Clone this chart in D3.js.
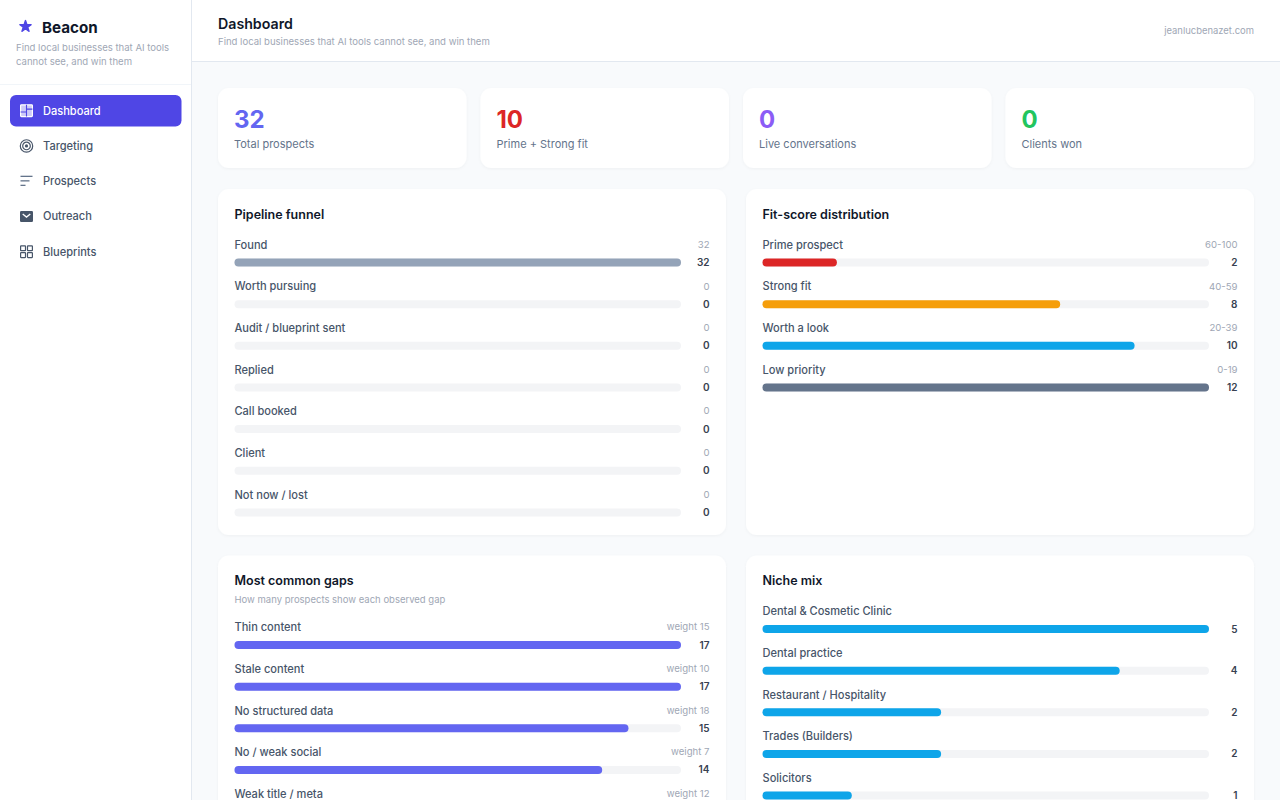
<!DOCTYPE html>
<html>
<head>
<meta charset="utf-8">
<title>Beacon</title>
<script src="https://cdn.jsdelivr.net/npm/d3@7"></script>
<style>
    html, body { margin: 0; padding: 0; overflow: hidden; background: #f8fafc; }
    svg { display: block; font-family: Inter, "Noto Sans", sans-serif; }
</style>
</head>
<body>
<div id="app"></div>
<script>
const navItems = ["Dashboard", "Targeting", "Prospects", "Outreach", "Blueprints"];

const kpiValues = ["32", "10", "0", "0"];
const kpiLabels = ["Total prospects", "Prime + Strong fit", "Live conversations", "Clients won"];
const kpiColors = ["#6366f1", "#dc2626", "#8b5cf6", "#22c55e"];

const funnelLabels = ["Found", "Worth pursuing", "Audit / blueprint sent", "Replied", "Call booked", "Client", "Not now / lost"];
const funnelValues = [32, 0, 0, 0, 0, 0, 0];
const funnelMeta = ["32", "0", "0", "0", "0", "0", "0"];

const fitLabels = ["Prime prospect", "Strong fit", "Worth a look", "Low priority"];
const fitValues = [2, 8, 10, 12];
const fitMeta = ["60-100", "40-59", "20-39", "0-19"];
const fitColors = ["#dc2626", "#f59e0b", "#0ea5e9", "#64748b"];

const gapLabels = ["Thin content", "Stale content", "No structured data", "No / weak social", "Weak title / meta"];
const gapValues = [17, 17, 15, 14, 14];
const gapMeta = ["weight 15", "weight 10", "weight 18", "weight 7", "weight 12"];

const nicheLabels = ["Dental & Cosmetic Clinic", "Dental practice", "Restaurant / Hospitality", "Trades (Builders)", "Solicitors"];
const nicheValues = [5, 4, 2, 2, 1];

const W = 1280;
const H = 800;
const sideW = 191;
const headH = 61;
const barW = 446.5;
const barH = 8;
const rowH = 41.65;
const mutedColor = "#a0a7b5";

const svg = d3.select("#app")
    .append("svg")
    .attr("width", W)
    .attr("height", H);

const defs = svg.append("defs");
const shadow = defs.append("filter")
    .attr("id", "cardShadow")
    .attr("x", "-5%").attr("y", "-5%")
    .attr("width", "110%").attr("height", "110%");
shadow.append("feDropShadow")
    .attr("dx", 0).attr("dy", 1).attr("stdDeviation", 1.5)
    .attr("flood-color", "#0f172a").attr("flood-opacity", 0.04);

function addText(parent, x, y, str, size, weight, color, anchor) {
    return parent.append("text")
        .attr("x", x)
        .attr("y", y)
        .attr("dy", "0.35em")
        .attr("font-size", size)
        .attr("font-weight", weight)
        .attr("fill", color)
        .attr("text-anchor", anchor || "start")
        .text(str);
}

//PAGE
svg.append("rect").attr("width", W).attr("height", H).attr("fill", "#f8fafc");

//HEADER
svg.append("rect").attr("x", sideW).attr("width", W - sideW).attr("height", headH).attr("fill", "#ffffff");
svg.append("rect").attr("x", sideW).attr("y", headH).attr("width", W - sideW).attr("height", 1).attr("fill", "#e2e8f0");
addText(svg, 218, 24, "Dashboard", 14.2, 600, "#0f172a");
addText(svg, 218, 42, "Find local businesses that AI tools cannot see, and win them", 9.55, 400, mutedColor);
addText(svg, 1254, 30.5, "jeanlucbenazet.com", 9.45, 400, mutedColor, "end");

//SIDEBAR
svg.append("rect").attr("width", sideW).attr("height", H).attr("fill", "#ffffff");
svg.append("rect").attr("x", sideW).attr("width", 1).attr("height", H).attr("fill", "#e2e8f0");
svg.append("rect").attr("y", 84).attr("width", sideW).attr("height", 1).attr("fill", "#f1f5f9");
svg.append("path")
    .attr("transform", "translate(25.5,26.5)")
    .attr("d", d3.symbol(d3.symbolStar, 38)())
    .attr("fill", "#4f46e5")
    .attr("stroke", "#4f46e5")
    .attr("stroke-width", 1.6)
    .attr("stroke-linejoin", "round");
addText(svg, 42, 27.5, "Beacon", 15.2, 700, "#0f172a");
addText(svg, 16, 47.5, "Find local businesses that AI tools", 9.55, 400, mutedColor);
addText(svg, 16, 61.5, "cannot see, and win them", 9.55, 400, mutedColor);

const navY = d3.scalePoint().domain(navItems).range([110.7, 251.7]);

svg.append("rect")
    .attr("x", 10).attr("y", 95)
    .attr("width", 171.5).attr("height", 31.5)
    .attr("rx", 6)
    .attr("fill", "#4f46e5");

const nav = svg.selectAll("g.nav")
    .data(navItems)
    .enter()
    .append("g")
    .attr("class", "nav")
    .attr("transform", d => "translate(0," + navY(d) + ")");

nav.append("text")
    .attr("x", 43)
    .attr("dy", "0.35em")
    .attr("font-size", 11.05)
    .attr("font-weight", 500)
    .attr("fill", (d, i) => i === 0 ? "#ffffff" : "#475569")
    .text(d => d);

//NAV ICONS
const iconDash = svg.append("g").attr("transform", "translate(26.5," + navY("Dashboard") + ")");
iconDash.append("rect")
    .attr("x", -5.9).attr("y", -5.9).attr("width", 11.8).attr("height", 11.8).attr("rx", 0.8)
    .attr("fill", "#ffffff").attr("fill-opacity", 0.72)
    .attr("stroke", "#ffffff").attr("stroke-width", 1.2);
iconDash.append("path")
    .attr("d", "M0-5.9V5.9M-5.9 1.3H0M0-1.6H5.9")
    .attr("fill", "none")
    .attr("stroke", "#4f46e5")
    .attr("stroke-width", 1.1);

const iconTarget = svg.append("g").attr("transform", "translate(26.5," + navY("Targeting") + ")")
    .attr("fill", "none").attr("stroke", "#475569");
[6.2, 3.8].forEach(r => iconTarget.append("circle").attr("r", r).attr("stroke-width", 1.2));
iconTarget.append("circle").attr("r", 1.6).attr("fill", "#475569").attr("stroke", "none");

const iconList = svg.append("g").attr("transform", "translate(26.5," + navY("Prospects") + ")").attr("fill", "#64748b");
[[-6, -5.5, 12], [-6, -1, 9], [-6, 3.5, 5]].forEach(l => {
    iconList.append("rect").attr("x", l[0]).attr("y", l[1]).attr("width", l[2]).attr("height", 1.3);
});

const iconMail = svg.append("g").attr("transform", "translate(26.5," + navY("Outreach") + ")");
iconMail.append("rect").attr("x", -6.5).attr("y", -5.5).attr("width", 13).attr("height", 11).attr("rx", 1.2).attr("fill", "#475569");
iconMail.append("path").attr("d", "M-3.8-2.4L0 0.6L3.8-2.4").attr("fill", "none").attr("stroke", "#ffffff").attr("stroke-width", 1.3);

const iconGrid = svg.append("g").attr("transform", "translate(26.5," + navY("Blueprints") + ")")
    .attr("fill", "none").attr("stroke", "#475569").attr("stroke-width", 1.2);
[[-5.9, -5.9], [1, -5.9], [-5.9, 1], [1, 1]].forEach(p => {
    iconGrid.append("rect").attr("x", p[0]).attr("y", p[1]).attr("width", 4.9).attr("height", 4.9).attr("rx", 0.5);
});

//KPI CARDS
const kpiX = d3.scalePoint().domain(d3.range(4)).range([218, 1005.5]);
const kpi = svg.selectAll("g.kpi")
    .data(kpiValues)
    .enter()
    .append("g")
    .attr("class", "kpi")
    .attr("transform", (d, i) => "translate(" + kpiX(i) + ",88)");
kpi.append("rect")
    .attr("width", 248.5).attr("height", 80).attr("rx", 11)
    .attr("fill", "#ffffff").attr("filter", "url(#cardShadow)");
kpi.append("text")
    .attr("x", 16).attr("y", 31.4).attr("dy", "0.35em")
    .attr("font-size", 24).attr("font-weight", 700)
    .attr("fill", (d, i) => kpiColors[i])
    .text(d => d);
kpi.append("text")
    .attr("x", 16).attr("y", 56).attr("dy", "0.35em")
    .attr("font-size", 11).attr("fill", "#64748b")
    .text((d, i) => kpiLabels[i]);

//PANELS
function drawPanel(opts) {
    const g = svg.append("g").attr("transform", "translate(" + opts.x + "," + opts.y + ")");
    g.append("rect")
        .attr("width", 508).attr("height", opts.height).attr("rx", 11)
        .attr("fill", "#ffffff").attr("filter", "url(#cardShadow)");
    addText(g, 16.5, 25.5, opts.title, 12.5, 600, "#0f172a");
    if (opts.subtitle) {
        addText(g, 16.5, 44.5, opts.subtitle, 9.5, 400, mutedColor);
    }

    const x = d3.scaleLinear().domain([0, d3.max(opts.values)]).range([0, barW]);
    const rows = g.selectAll("g.row")
        .data(opts.values)
        .enter()
        .append("g")
        .attr("class", "row")
        .attr("transform", (d, i) => "translate(16.5," + (opts.rowTop + i * rowH) + ")");

    rows.append("text")
        .attr("y", 0.4)
        .attr("dy", "0.35em")
        .attr("font-size", 11.05).attr("font-weight", 500).attr("fill", "#475569")
        .text((d, i) => opts.labels[i]);
    if (opts.meta) {
        rows.append("text")
            .attr("x", 475).attr("dy", "0.35em").attr("text-anchor", "end")
            .attr("font-size", 9.6).attr("fill", mutedColor)
            .text((d, i) => opts.meta[i]);
    }
    rows.append("rect")
        .attr("y", 18 - barH / 2).attr("width", barW).attr("height", barH).attr("rx", 4)
        .attr("fill", "#f3f4f6");
    rows.filter(d => d > 0).append("rect")
        .attr("y", 18 - barH / 2).attr("width", d => x(d)).attr("height", barH).attr("rx", 4)
        .attr("fill", d => opts.colors ? opts.colors[opts.values.indexOf(d)] : opts.color);
    rows.append("text")
        .attr("x", 475).attr("y", 18).attr("dy", "0.35em").attr("text-anchor", "end")
        .attr("font-size", 10).attr("font-weight", 600).attr("fill", "#374151")
        .text(d => d);
}

drawPanel({ x: 218, y: 189, height: 346, title: "Pipeline funnel", rowTop: 55.5,
    labels: funnelLabels, values: funnelValues, meta: funnelMeta, color: "#94a3b8" });
drawPanel({ x: 746, y: 189, height: 346, title: "Fit-score distribution", rowTop: 55.5,
    labels: fitLabels, values: fitValues, meta: fitMeta, colors: fitColors });
drawPanel({ x: 218, y: 555.5, height: 300, title: "Most common gaps", subtitle: "How many prospects show each observed gap", rowTop: 71.5,
    labels: gapLabels, values: gapValues, meta: gapMeta, color: "#6366f1" });
drawPanel({ x: 746, y: 555.5, height: 300, title: "Niche mix", rowTop: 55.5,
    labels: nicheLabels, values: nicheValues, color: "#0ea5e9" });
</script>
</body>
</html>
